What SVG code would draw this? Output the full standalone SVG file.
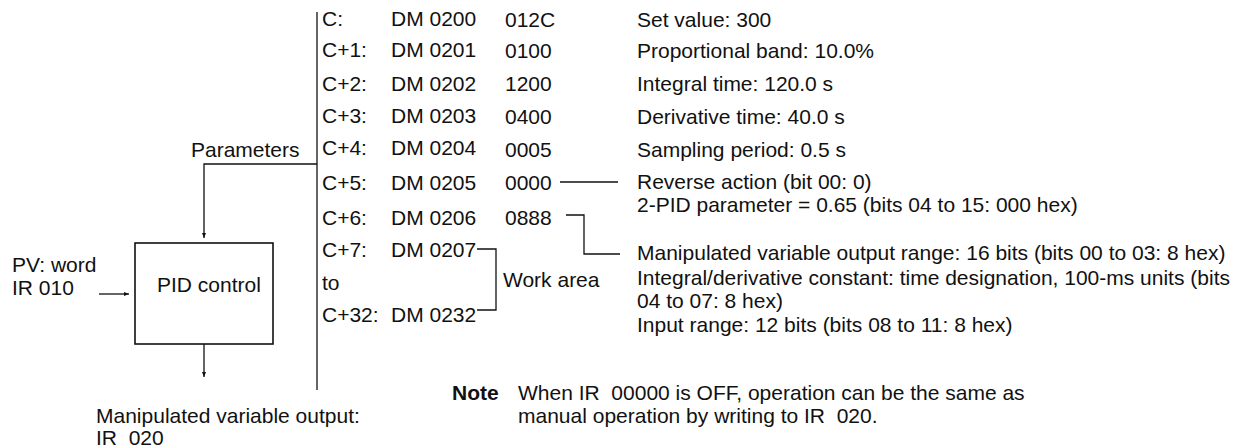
<svg xmlns="http://www.w3.org/2000/svg" width="1244" height="448" viewBox="0 0 1244 448">
<style>
text{font-family:"Liberation Sans",Arial,Helvetica,sans-serif;font-size:21px;fill:#111;white-space:pre}
.b{font-weight:bold}
.ln{fill:none;stroke:#111;stroke-width:1.3}
.box{fill:#fff;stroke:#111;stroke-width:1.6}
</style>
<defs>
<marker id="ah" markerUnits="userSpaceOnUse" markerWidth="6" markerHeight="6" viewBox="0 0 6 6" refX="5" refY="3" orient="auto">
<path d="M0,1 L5,3 L0,5 Z" fill="#111"/>
</marker>
</defs>
<g id="connectors">
<path class="ln" d="M317,12 V390"/>
<path class="ln" d="M317,164 H204 V238" marker-end="url(#ah)"/>
<path class="ln" d="M99,294 H129" marker-end="url(#ah)"/>
<path class="ln" d="M204,344 V377" marker-end="url(#ah)"/>
<path class="ln" d="M560,182 H618"/>
<path class="ln" d="M566,215 H584 V254 H620"/>
<path class="ln" d="M477,249 H496 V310 H477"/>
</g>
<g id="pid-control">
<rect class="box" x="135" y="243" width="138" height="101"/>
<text x="157" y="292">PID control</text>
</g>
<g id="pv-input">
<text x="12" y="272">PV: word</text>
<text x="12" y="295">IR 010</text>
</g>
<g id="output-label">
<text x="96" y="423">Manipulated variable output:</text>
<text x="96" y="445">IR  020</text>
</g>
<g id="parameters-label">
<text x="191" y="157">Parameters</text>
</g>
<g id="param-table">
<text x="322" y="26">C:</text><text x="391" y="26">DM 0200</text><text x="505" y="27">012C</text>
<text x="322" y="57">C+1:</text><text x="391" y="57">DM 0201</text><text x="505" y="58">0100</text>
<text x="322" y="91">C+2:</text><text x="391" y="91">DM 0202</text><text x="505" y="91">1200</text>
<text x="322" y="123">C+3:</text><text x="391" y="123">DM 0203</text><text x="505" y="124">0400</text>
<text x="322" y="155">C+4:</text><text x="391" y="155">DM 0204</text><text x="505" y="157">0005</text>
<text x="322" y="190">C+5:</text><text x="391" y="190">DM 0205</text><text x="505" y="190">0000</text>
<text x="322" y="225">C+6:</text><text x="391" y="225">DM 0206</text><text x="505" y="225">0888</text>
<text x="322" y="257">C+7:</text><text x="391" y="257">DM 0207</text>
<text x="322" y="290">to</text>
<text x="322" y="322">C+32:</text><text x="391" y="322">DM 0232</text>
</g>
<g id="work-area">
<text x="503" y="287">Work area</text>
</g>
<g id="descriptions">
<text x="637" y="27">Set value: 300</text>
<text x="637" y="58">Proportional band: 10.0%</text>
<text x="637" y="91">Integral time: 120.0 s</text>
<text x="637" y="124">Derivative time: 40.0 s</text>
<text x="637" y="157">Sampling period: 0.5 s</text>
<text x="637" y="189">Reverse action (bit 00: 0)</text>
<text x="637" y="212">2-PID parameter = 0.65 (bits 04 to 15: 000 hex)</text>
<text x="637" y="260">Manipulated variable output range: 16 bits (bits 00 to 03: 8 hex)</text>
<text x="637" y="285">Integral/derivative constant: time designation, 100-ms units (bits</text>
<text x="637" y="308">04 to 07: 8 hex)</text>
<text x="637" y="332">Input range: 12 bits (bits 08 to 11: 8 hex)</text>
</g>
<g id="note">
<text class="b" x="452" y="400">Note</text>
<text x="518" y="400">When IR  00000 is OFF, operation can be the same as</text>
<text x="518" y="423">manual operation by writing to IR  020.</text>
</g>
</svg>
